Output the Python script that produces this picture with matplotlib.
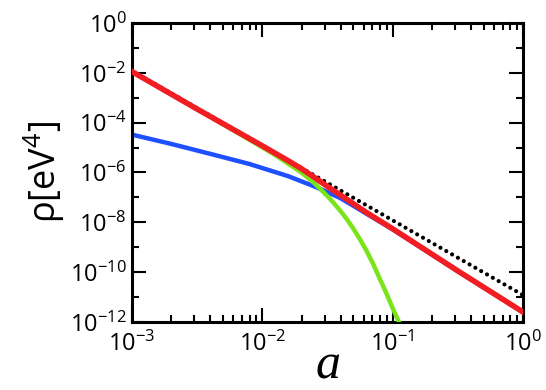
import matplotlib
matplotlib.use("Agg")
import matplotlib.pyplot as plt
from matplotlib.ticker import FixedLocator, LogFormatterSciNotation, NullFormatter

plt.rcParams['mathtext.fontset'] = 'custom'
plt.rcParams['mathtext.rm'] = 'Open Sans'
plt.rcParams['mathtext.it'] = 'Open Sans:italic'
plt.rcParams['font.family'] = ['Open Sans', 'DejaVu Sans']

# values (a, rho in eV^4)
a_red = [1e-3, 3.16e-3, 1e-2, 1.58e-2, 2e-2, 2.51e-2, 3.16e-2, 3.98e-2, 6.31e-2, 0.1, 0.316, 1.0]
rho_red = [1.12e-2, 3.5e-4, 1.17e-5, 2.95e-6, 1.41e-6, 6.3e-7, 2.75e-7, 1.23e-7, 2.45e-8,
           5.5e-9, 1.12e-10, 2.5e-12]

a_blue = [1e-3, 2e-3, 3.98e-3, 7.94e-3, 1.58e-2, 2.51e-2, 3.16e-2, 3.98e-2, 6.31e-2, 0.1, 0.316, 1.0]
rho_blue = [3.3e-5, 1.4e-5, 5.6e-6, 2.2e-6, 7.1e-7, 2.75e-7, 1.62e-7, 9.3e-8, 2.2e-8, 5.2e-9,
            1.1e-10, 2.5e-12]

a_green = [1e-3, 3.16e-3, 1e-2, 1.26e-2, 1.58e-2, 2e-2, 2.51e-2, 3.16e-2, 3.55e-2, 3.98e-2,
           4.47e-2, 5.01e-2, 5.62e-2, 6.31e-2, 7.08e-2, 7.94e-2, 8.91e-2, 0.1, 0.107, 0.115]
rho_green = [1.1e-2, 3.5e-4, 1.02e-5, 4.9e-6, 2.24e-6, 9.8e-7, 3.7e-7, 1.12e-7, 5.75e-8, 2.82e-8,
             1.29e-8, 5.4e-9, 2.04e-9, 7.1e-10, 2.14e-10, 5.6e-11, 1.48e-11, 3.55e-12, 1.62e-12, 7.4e-13]

a_dot = [1e-3, 1.0]
rho_dot = [1.2e-2, 1.2e-11]

yticks_major = [1e-12, 1e-10, 1e-8, 1e-6, 1e-4, 1e-2, 1e0]
yticks_minor = [1e-11, 1e-9, 1e-7, 1e-5, 1e-3, 1e-1]

fig = plt.figure(figsize=(5.46, 3.9), dpi=100)
ax = fig.add_axes([0.2418, 0.1744, 0.7161, 0.7667])

ax.plot(a_dot, rho_dot, color='black', lw=3.0, linestyle=(0, (0.01, 1.6)),
        dash_capstyle='round', zorder=1)
ax.plot(a_blue, rho_blue, color='#1f50ff', lw=3.2, zorder=2)
ax.plot(a_green, rho_green, color='#7be319', lw=3.2, zorder=3)
ax.plot(a_red, rho_red, color='#f21d22', lw=4.0, zorder=4)

ax.set_xscale('log')
ax.set_yscale('log')
ax.set_xlim(1e-3, 1)
ax.set_ylim(1e-12, 1)

ax.yaxis.set_major_locator(FixedLocator(yticks_major))
ax.yaxis.set_minor_locator(FixedLocator(yticks_minor))
ax.yaxis.set_major_formatter(LogFormatterSciNotation())
ax.yaxis.set_minor_formatter(NullFormatter())

ax.tick_params(which='both', direction='in', top=True, right=True, width=1.5)
ax.tick_params(which='major', length=10, labelsize=17)
ax.tick_params(axis='x', which='major', pad=7)
ax.tick_params(axis='y', which='major', pad=4)
ax.tick_params(which='minor', length=5)
for s in ax.spines.values():
    s.set_linewidth(2.2)

ax.set_xlabel('a', fontsize=36, family='Liberation Serif', style='italic', labelpad=-10)
ax.set_ylabel(r'$\mathrm{\rho[eV^4]}$', fontsize=26, labelpad=2)

fig.savefig('out.png', dpi=100)
